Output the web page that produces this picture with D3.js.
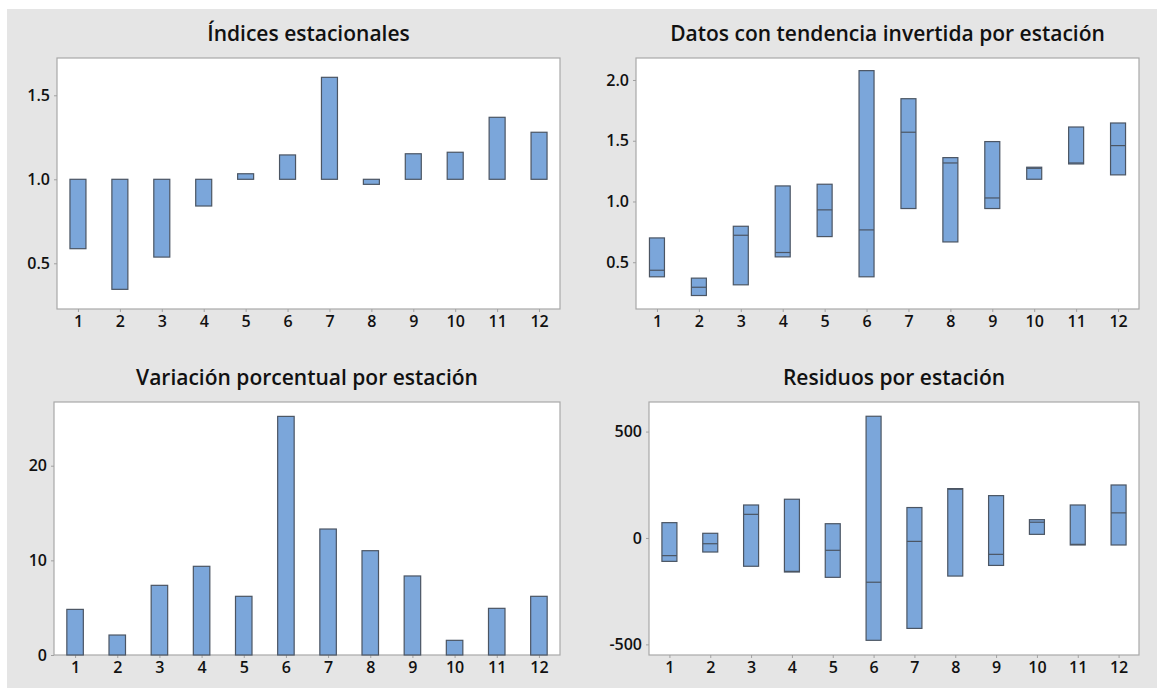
<!DOCTYPE html>
<html>
<head>
<meta charset="utf-8">
<script src="https://cdn.jsdelivr.net/npm/d3@7"></script>
<style>
    body { margin: 0; background: #ffffff; }
    text { font-family: "Open Sans", "Noto Sans", sans-serif; fill: #111; }
</style>
</head>
<body>
<svg id="chart" width="1157" height="688"></svg>
<script>

// seasons on the x axis
const seasons = [1, 2, 3, 4, 5, 6, 7, 8, 9, 10, 11, 12];

// Índices estacionales (bars drawn from 1.0)
const seasonalIndex = [0.587, 0.345, 0.537, 0.841, 1.033, 1.145, 1.607, 0.970, 1.152, 1.161, 1.369, 1.280];

// Datos con tendencia invertida por estación (min / median / max)
const detrendLow  = [0.380, 0.226, 0.314, 0.544, 0.711, 0.380, 0.942, 0.667, 0.942, 1.183, 1.309, 1.219];
const detrendMed  = [0.434, 0.294, 0.722, 0.580, 0.931, 0.766, 1.570, 1.317, 1.029, 1.273, 1.317, 1.460];
const detrendHigh = [0.700, 0.369, 0.796, 1.128, 1.142, 2.077, 1.846, 1.361, 1.493, 1.282, 1.613, 1.646];

// Variación porcentual por estación
const pctVariation = [4.82, 2.11, 7.36, 9.37, 6.20, 25.21, 13.31, 11.02, 8.35, 1.55, 4.93, 6.20];

// Residuos por estación (min / median / max)
const residLow  = [-110, -66, -133, -160, -185, -481, -425, -179, -129, 17, -33, -33];
const residMed  = [-83, -27, 111, -157, -58, -208, -16, 229, -77, 74, -30, 118];
const residHigh = [72, 22, 155, 182, 67, 572, 143, 232, 199, 86, 155, 249];

// tick labels
const indexTicks = [0.5, 1.0, 1.5];
const detrendTicks = [0.5, 1.0, 1.5, 2.0];
const pctTicks = [0, 10, 20];
const residTicks = [-500, 0, 500];

const fillColor = "#7ba6da";
const strokeColor = "#4b5563";

let svg = d3.select("#chart");

// gray panel background
svg.append("rect")
    .attr("x", 7).attr("y", 9)
    .attr("width", 1150).attr("height", 679)
    .attr("fill", "#e5e5e5");

function drawPanel(cfg) {
    let g = svg.append("g");

    let x = d3.scaleLinear().domain([0.5, 12.5]).range([cfg.left, cfg.right]);
    let y = d3.scaleLinear().domain(cfg.yDomain).range([cfg.bottom, cfg.top]);

    // plot area
    g.append("rect")
        .attr("x", cfg.left).attr("y", cfg.top)
        .attr("width", cfg.right - cfg.left).attr("height", cfg.bottom - cfg.top)
        .attr("fill", "#ffffff")
        .attr("stroke", "#a8a8a8")
        .attr("stroke-width", 1.2);

    // title
    g.append("text")
        .attr("x", (cfg.left + cfg.right) / 2)
        .attr("y", cfg.top - 17)
        .attr("text-anchor", "middle")
        .style("font-size", "21px")
        .style("font-weight", 600)
        .text(cfg.title);

    // axes
    let xAxis = g.append("g")
        .attr("transform", `translate(0, ${cfg.bottom})`)
        .call(d3.axisBottom(x).tickValues(seasons).tickFormat(d3.format("d")).tickSizeOuter(0).tickSize(3).tickPadding(4));

    let yAxis = g.append("g")
        .attr("transform", `translate(${cfg.left}, 0)`)
        .call(d3.axisLeft(y).tickValues(cfg.ticks).tickFormat(cfg.fmt).tickSizeOuter(0).tickSize(3).tickPadding(4));

    [xAxis, yAxis].forEach(a => {
        a.select(".domain").remove();
        a.selectAll(".tick line").attr("stroke", "#a0a0a0");
        a.selectAll(".tick text")
            .attr("fill", "#111")
            .style("font-size", "16px")
            .style("font-weight", 600)
            .style("font-family", "'Open Sans', sans-serif");
    });

    let bw = cfg.barWidth;

    // boxes / bars
    g.selectAll(".mark")
        .data(seasons)
        .enter().append("rect")
        .attr("class", "mark")
        .attr("x", d => x(d) - bw / 2)
        .attr("y", (d, i) => y(Math.max(cfg.lo[i], cfg.hi[i])))
        .attr("width", bw)
        .attr("height", (d, i) => Math.abs(y(cfg.lo[i]) - y(cfg.hi[i])))
        .attr("fill", fillColor)
        .attr("stroke", strokeColor)
        .attr("stroke-width", 1.2);

    if (cfg.med) {
        g.selectAll(".median")
            .data(seasons)
            .enter().append("line")
            .attr("class", "median")
            .attr("x1", d => x(d) - bw / 2)
            .attr("x2", d => x(d) + bw / 2)
            .attr("y1", (d, i) => y(cfg.med[i]))
            .attr("y2", (d, i) => y(cfg.med[i]))
            .attr("stroke", strokeColor)
            .attr("stroke-width", 1.2);
    }
}

drawPanel({
    title: "Índices estacionales",
    left: 57, right: 560, top: 58, bottom: 309,
    yDomain: [0.228, 1.722],
    ticks: indexTicks, fmt: d3.format(".1f"),
    lo: seasonalIndex.map(() => 1.0), hi: seasonalIndex,
    barWidth: 16
});

drawPanel({
    title: "Datos con tendencia invertida por estación",
    left: 636, right: 1139, top: 58, bottom: 309,
    yDomain: [0.115, 2.181],
    ticks: detrendTicks, fmt: d3.format(".1f"),
    lo: detrendLow, hi: detrendHigh, med: detrendMed,
    barWidth: 15
});

drawPanel({
    title: "Variación porcentual por estación",
    left: 54, right: 560, top: 402, bottom: 655,
    yDomain: [0, 26.73],
    ticks: pctTicks, fmt: d3.format("d"),
    lo: pctVariation.map(() => 0), hi: pctVariation,
    barWidth: 16.5
});

drawPanel({
    title: "Residuos por estación",
    left: 649, right: 1139, top: 402, bottom: 655,
    yDomain: [-550, 639],
    ticks: residTicks, fmt: d => d3.format("d")(d).replace("−", "-"),
    lo: residLow, hi: residHigh, med: residMed,
    barWidth: 15
});

</script>
</body>
</html>
